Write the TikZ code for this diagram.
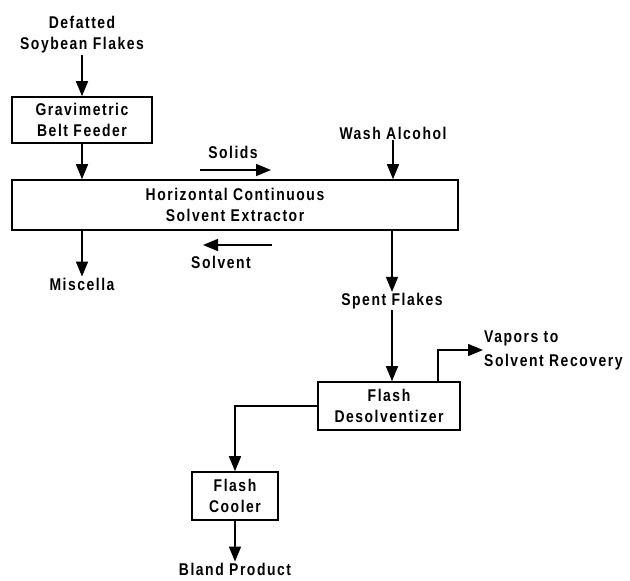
\documentclass[tikz,border=0pt]{standalone}
\usepackage{fontspec}
\setmainfont{Liberation Sans}[FakeStretch=0.82,LetterSpace=9]
\usepackage{tikz}
\usetikzlibrary{positioning}
\usetikzlibrary{arrows.meta}
\usetikzlibrary{calc}
\tikzstyle{unit}=[rectangle,draw,line width=1.6pt,align=center,inner sep=0pt]
\tikzstyle{stream}=[align=center,inner sep=1pt]
\tikzstyle{edge} = [draw,line width=1.5pt,-{Triangle[length=15pt,width=12pt]}]
\tikzset{txt/.style={font=\fontsize{17}{21}\selectfont\bfseries}}

\begin{document}
\begin{tikzpicture}[x=1pt,y=-1pt,every node/.style={txt}]

 \useasboundingbox (0,0) rectangle (630,581);

 %process units
 \foreach \x/\y/\w/\h/\name/\label in {82/120/140/46/feeder/{Gravimetric\\Belt Feeder},
          235/205/446/50/extractor/{Horizontal Continuous\\Solvent Extractor},
          389/406/142/48/desolv/{Flash\\Desolventizer},
          235/496/86/48/cooler/{Flash\\Cooler}}
          \node[unit,minimum width=\w,minimum height=\h] (\name) at (\x,\y) {\label};

 %streams
 \foreach \x/\y/\name/\label in {82/35/flakes/{Defatted\\Soybean Flakes},
          393/133/wash/{Wash Alcohol}, 82/284/miscella/{Miscella},
          392/301/spent/{Spent Flakes}, 235/569/bland/{Bland Product},
          233/152/solids/{Solids}, 221/262/solvent/{Solvent}}
          \node[stream] (\name) at (\x,\y) {\label};

 \node[stream,align=left,anchor=west,font=\fontsize{17}{24}\selectfont\bfseries] (vapors) at (483,350) {Vapors to\\Solvent Recovery};

 \coordinate (s1) at (200,170);
 \coordinate (s2) at (271,170);
 \coordinate (v1) at (203,245);
 \coordinate (v2) at (272,245);
 \coordinate (vap) at ($(desolv.north east)+(-23,0)$);

 \foreach \source/ \dest in {flakes/feeder, cooler/bland, s1/s2, v2/v1}
         \path[edge] (\source) -- (\dest);

 \path[edge] (feeder) -- (feeder |- extractor.north);
 \path[edge] (wash) -- (wash |- extractor.north);
 \path[edge] (miscella |- extractor.south) -- (miscella);
 \path[edge] (spent |- extractor.south) -- (spent);
 \path[edge] (spent) -- (spent |- desolv.north);
 \path[edge] (desolv.west) -| (cooler.north);
 \path[edge] (vap) |- (vapors.west);

\end{tikzpicture}
\end{document}
